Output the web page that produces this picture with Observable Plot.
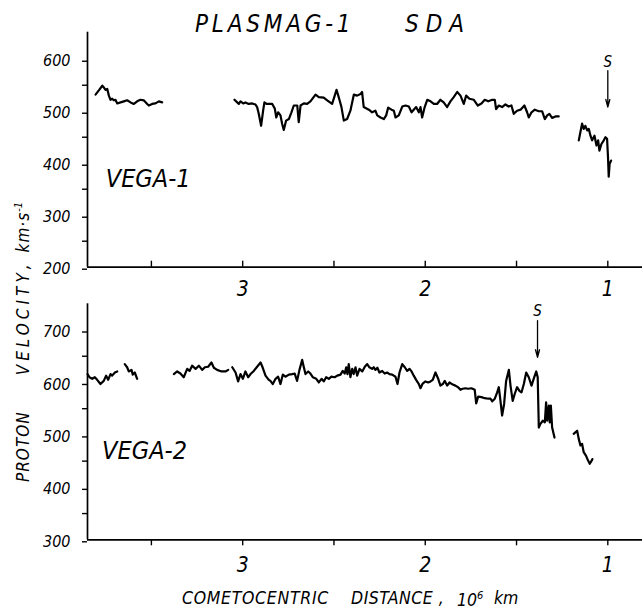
<!DOCTYPE html>
<html><head><meta charset="utf-8">
<script src="https://cdn.jsdelivr.net/npm/d3@7"></script>
<script src="https://cdn.jsdelivr.net/npm/@observablehq/plot@0.6"></script>
<style>
body{margin:0;background:#fff;}
#wrap{position:relative;width:642px;height:610px;overflow:hidden;background:#fff;font-family:"DejaVu Sans Condensed","DejaVu Sans",sans-serif;font-style:italic;font-stretch:condensed;color:#000;}
#wrap svg{position:absolute;left:0;}
#wrap svg text{font-style:italic;}
.t{position:absolute;white-space:pre;line-height:1;}
</style></head><body><div id="wrap"></div>
<script>
// ---- scales / ticks ----
const xDomain = [3.85, 0.81];          // cometocentric distance, 10^6 km (reversed)
const v1Domain = [200, 652];           // VEGA-1 proton velocity, km/s
const v2Domain = [300, 750];           // VEGA-2 proton velocity, km/s
const xMajorTicks = [3, 2, 1];
const xMinorTicks = [3.5, 2.5, 1.5];
const v1MajorTicks = [200, 300, 400, 500, 600];
const v1MinorTicks = [250, 350, 450, 550];
const v2MajorTicks = [300, 400, 500, 600, 700];
const v2MinorTicks = [350, 450, 550, 650];

// ---- VEGA-1 series: [distance, velocity] ----
const vega1Seg1 = [[3.806,532],[3.788,540],[3.769,549],[3.761,546],[3.751,541],[3.742,543],[3.733,530],[3.724,522],[3.715,524],[3.706,521],[3.697,522],[3.687,515],[3.669,517],[3.651,519],[3.633,521],[3.614,517],[3.596,514],[3.578,519],[3.560,522],[3.542,521],[3.523,514],[3.514,511],[3.496,514],[3.478,515],[3.459,519],[3.441,517]];
const vega1Seg2 = [[3.045,522],[3.030,517],[3.021,514],[3.012,519],[2.997,515],[2.985,517],[2.967,514],[2.948,515],[2.930,513],[2.921,508],[2.912,495],[2.899,472],[2.888,501],[2.881,517],[2.870,514],[2.857,514],[2.838,514],[2.824,505],[2.816,488],[2.806,498],[2.793,492],[2.784,476],[2.775,464],[2.762,482],[2.747,485],[2.733,498],[2.720,511],[2.701,511],[2.693,479],[2.683,511],[2.665,515],[2.647,514],[2.629,519],[2.601,532],[2.583,527],[2.556,526],[2.537,521],[2.510,514],[2.486,541],[2.474,527],[2.459,508],[2.446,482],[2.428,485],[2.410,501],[2.391,532],[2.373,530],[2.355,533],[2.346,537],[2.337,508],[2.309,503],[2.291,498],[2.273,501],[2.263,492],[2.245,488],[2.227,485],[2.214,492],[2.203,507],[2.185,503],[2.172,501],[2.163,488],[2.145,492],[2.126,509],[2.108,511],[2.090,509],[2.075,498],[2.063,503],[2.050,508],[2.035,498],[2.026,508],[2.017,488],[2.003,508],[1.989,522],[1.971,519],[1.953,514],[1.935,514],[1.917,522],[1.899,517],[1.880,508],[1.862,519],[1.844,527],[1.825,537],[1.807,530],[1.789,514],[1.776,530],[1.758,524],[1.734,522],[1.712,511],[1.692,515],[1.674,522],[1.655,519],[1.633,522],[1.619,522],[1.612,504],[1.597,511],[1.579,508],[1.561,513],[1.543,509],[1.528,511],[1.515,495],[1.497,501],[1.478,503],[1.457,511],[1.442,498],[1.433,488],[1.418,498],[1.400,503],[1.378,500],[1.360,500],[1.345,485],[1.332,492],[1.320,495],[1.305,487],[1.287,490],[1.269,490]];
const vega1Seg3 = [[1.159,444],[1.150,460],[1.141,476],[1.132,466],[1.123,472],[1.113,463],[1.104,466],[1.095,453],[1.086,444],[1.073,453],[1.062,434],[1.053,444],[1.046,424],[1.035,437],[1.022,444],[1.013,450],[1.004,447],[0.999,412],[0.995,374],[0.990,399],[0.982,405]];

// ---- VEGA-2 series: [distance, velocity] ----
const vega2Seg1 = [[3.850,616],[3.839,610],[3.824,607],[3.810,610],[3.797,605],[3.779,597],[3.761,603],[3.748,613],[3.737,605],[3.724,616],[3.715,613],[3.700,619],[3.687,621]];
const vega2Seg2 = [[3.646,635],[3.633,629],[3.624,621],[3.609,624],[3.602,615],[3.591,619],[3.578,607]];
const vega2Seg3 = [[3.377,616],[3.359,621],[3.341,617],[3.323,610],[3.304,626],[3.291,622],[3.277,632],[3.258,626],[3.240,632],[3.222,624],[3.207,629],[3.189,630],[3.171,638],[3.158,628],[3.140,624],[3.116,621],[3.094,621],[3.079,624]];
const vega2Seg4 = [[3.057,629],[3.039,619],[3.025,602],[3.012,616],[2.999,607],[2.985,621],[2.970,610],[2.957,616],[2.939,622],[2.921,630],[2.902,638],[2.890,628],[2.875,613],[2.857,605],[2.848,603],[2.835,597],[2.820,607],[2.806,611],[2.793,597],[2.780,615],[2.766,611],[2.747,615],[2.729,616],[2.715,617],[2.702,603],[2.689,624],[2.674,643],[2.665,629],[2.656,616],[2.641,621],[2.629,617],[2.616,610],[2.597,607],[2.583,600],[2.568,607],[2.556,602],[2.543,610],[2.528,607],[2.514,611],[2.496,610],[2.482,613],[2.464,615],[2.452,622],[2.441,617],[2.433,629],[2.426,616],[2.419,635],[2.410,610],[2.400,626],[2.392,616],[2.382,629],[2.373,613],[2.360,626],[2.345,621],[2.331,630],[2.318,635],[2.306,629],[2.291,626],[2.282,629],[2.273,624],[2.262,628],[2.251,619],[2.236,622],[2.222,617],[2.209,619],[2.196,616],[2.181,615],[2.163,611],[2.152,597],[2.141,619],[2.126,635],[2.112,629],[2.099,622],[2.086,626],[2.075,621],[2.063,613],[2.050,605],[2.035,597],[2.026,589],[2.014,598],[1.999,602],[1.984,600],[1.971,602],[1.959,605],[1.944,619],[1.929,607],[1.917,594],[1.904,597],[1.893,603],[1.880,594],[1.867,600],[1.849,596],[1.835,594],[1.820,591],[1.807,586],[1.795,588],[1.780,589],[1.765,588],[1.747,589],[1.729,586],[1.721,560],[1.710,573],[1.692,572],[1.674,570],[1.655,569],[1.643,569],[1.633,564],[1.619,569],[1.606,581],[1.597,591],[1.588,565],[1.579,537],[1.568,559],[1.557,603],[1.542,624],[1.533,594],[1.521,565],[1.510,578],[1.497,591],[1.484,584],[1.473,581],[1.460,597],[1.447,619],[1.433,610],[1.418,594],[1.406,607],[1.392,621],[1.384,610],[1.378,514],[1.369,521],[1.356,527],[1.345,524],[1.338,562],[1.332,527],[1.323,556],[1.318,524],[1.312,556],[1.305,514],[1.292,495]];
const vega2Seg5 = [[1.187,502],[1.168,508],[1.159,492],[1.150,480],[1.141,483],[1.132,467],[1.119,460],[1.108,451],[1.099,445],[1.090,450],[1.084,454]];

// ---- shock (S) markers ----
const shockVega1 = [{d: 1.0, from: 578, to: 508, label: 595}];
const shockVega2 = [{d: 1.385, from: 718, to: 648, label: 736}];

const font = "font-family:'DejaVu Sans Condensed','DejaVu Sans',sans-serif;font-style:italic;font-stretch:condensed;background:transparent;overflow:visible;";
const lineOpts = {stroke: "#000", strokeWidth: 2.2, strokeLinejoin: "round"};

function panel({top, height, mt, mb, yDomain, majors, minors, series, shock, name, nameX, nameY, xTickDir, xPad}) {
  const marks = [
    Plot.ruleX([xDomain[0]], {stroke: "#000", strokeWidth: 1.7}),
    Plot.ruleY([yDomain[0]], {stroke: "#000", strokeWidth: 1.7}),
    Plot.axisY({ticks: majors, tickSize: 5, tickPadding: 12, fontSize: 16, fontStyle: "italic", strokeWidth: 1.4, dy: 2, label: null, tickFormat: d => String(d)}),
    Plot.axisY({ticks: minors, tickSize: 5, strokeWidth: 1.4, label: null, tickFormat: () => ""}),
    Plot.axisX({ticks: xMajorTicks.concat(xMinorTicks), tickSize: xTickDir * 6, strokeWidth: 1.4, label: null, tickFormat: () => ""}),
    Plot.axisX({ticks: xMajorTicks, tickSize: 0, tickPadding: xPad, fontSize: 21, fontStyle: "italic", label: null, tickFormat: d => String(d)}),
    ...series.map(s => Plot.line(s, lineOpts)),
    Plot.arrow(shock, {x1: "d", x2: "d", y1: "from", y2: "to", stroke: "#000", strokeWidth: 1.3, headLength: 9, headAngle: 30, bend: 0}),
    Plot.text(shock, {x: "d", y: "label", text: () => "S", fontSize: 15, fontStyle: "italic"}),
    Plot.text([name], {x: nameX, y: nameY, text: d => d, textAnchor: "start", fontSize: 25, fontStyle: "italic"})
  ];
  const svg = Plot.plot({
    width: 642, height, marginLeft: 87, marginRight: 0, marginTop: mt, marginBottom: mb,
    x: {domain: xDomain, label: null},
    y: {domain: yDomain, label: null},
    style: font,
    marks
  });
  svg.style.top = top + "px";
  document.getElementById("wrap").appendChild(svg);
}

panel({top: 0, height: 295, mt: 31.7, mb: 28.3, yDomain: v1Domain, majors: v1MajorTicks, minors: v1MinorTicks,
  series: [vega1Seg1, vega1Seg2, vega1Seg3], shock: shockVega1, name: "VEGA-1", nameX: 3.75, nameY: 370, xTickDir: -1, xPad: 14});
panel({top: 295, height: 315, mt: 8.3, mb: 70.7, yDomain: v2Domain, majors: v2MajorTicks, minors: v2MinorTicks,
  series: [vega2Seg1, vega2Seg2, vega2Seg3, vega2Seg4, vega2Seg5], shock: shockVega2, name: "VEGA-2", nameX: 3.77, nameY: 470, xTickDir: 1, xPad: 17});

const wrap = document.getElementById("wrap");
function addText(html, css) {
  const d = document.createElement("div");
  d.className = "t"; d.innerHTML = html; d.style.cssText += css;
  wrap.appendChild(d);
}
// title
addText("PLASMAG-1", "left:195px;top:12px;font-size:24px;letter-spacing:3.8px;");
addText("SDA", "left:405px;top:12px;font-size:24px;letter-spacing:7px;");
// x axis title
addText("COMETOCENTRIC", "left:182px;top:590px;font-size:17.5px;letter-spacing:0.7px;");
addText("DISTANCE ,", "left:351px;top:590px;font-size:17.5px;letter-spacing:0.5px;");
addText("10<sup style='font-size:11px;vertical-align:7px'>6</sup>", "left:457px;top:590px;font-size:17.5px;");
addText("km", "left:494px;top:590px;font-size:17.5px;");
// y axis title (rotated)
addText("<span style='letter-spacing:1px'>PROTON</span><span style='display:inline-block;width:36px'></span><span style='letter-spacing:4px'>VELOCITY</span><span>,</span><span style='display:inline-block;width:12px'></span><span style='letter-spacing:1px'>km·s</span><sup style='font-size:11px;vertical-align:7px'>-1</sup>",
  "left:13px;top:482px;font-size:17px;transform:rotate(-90deg);transform-origin:0 0;");
</script></body></html>
